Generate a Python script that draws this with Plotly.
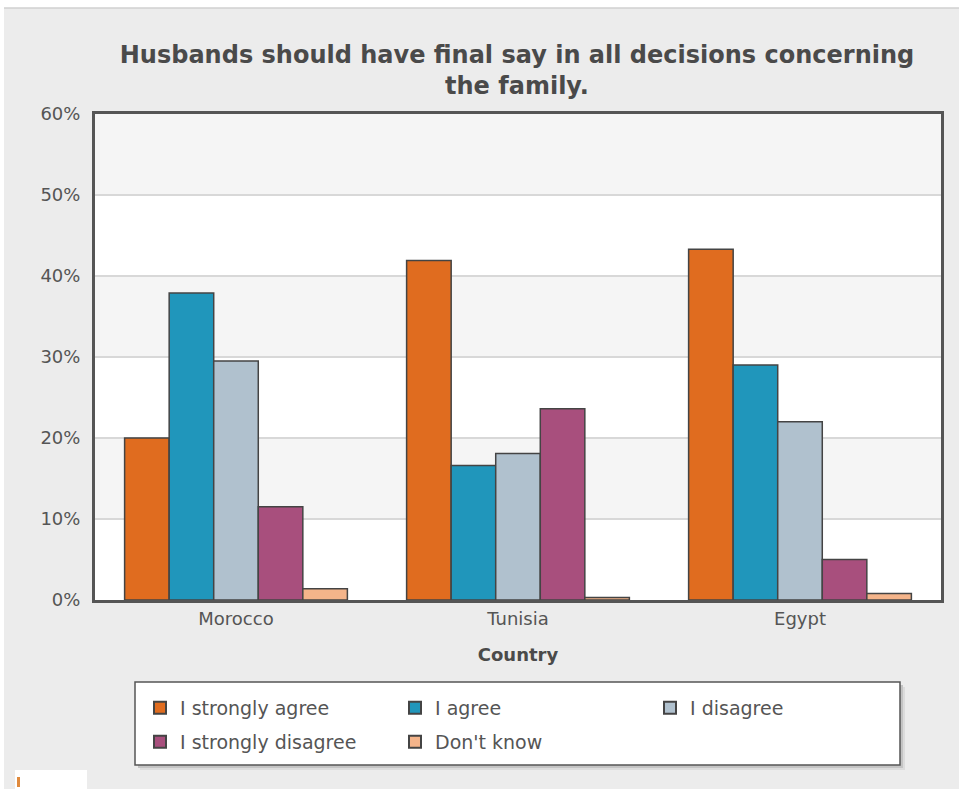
import plotly.graph_objects as go

# Survey responses by country (percent of respondents)
countries = ["Morocco", "Tunisia", "Egypt"]
responses = ["I strongly agree", "I agree", "I disagree", "I strongly disagree", "Don't know"]
strongly_agree = [20.0, 41.9, 43.3]
agree = [37.9, 16.6, 29.0]
disagree = [29.5, 18.1, 22.0]
strongly_disagree = [11.5, 23.6, 5.0]
dont_know = [1.4, 0.3, 0.8]
y_ticks = [0, 10, 20, 30, 40, 50, 60]
y_tick_labels = ["0%", "10%", "20%", "30%", "40%", "50%", "60%"]

series = [strongly_agree, agree, disagree, strongly_disagree, dont_know]
colors = ["#e06c1f", "#2096bb", "#b0c1ce", "#a84f7d", "#f4b48a"]
legend_rows = ["legend", "legend", "legend", "legend2", "legend2"]

FONT = "DejaVu Sans"
W, H = 959, 789
L, R, T, B = 95, 18, 114, 189
PW, PH = W - L - R, H - T - B


def px(x):
    return (x - L) / PW


def py(y):
    return (H - B - y) / PH


fig = go.Figure()
for name, vals, col, lg in zip(responses, series, colors, legend_rows):
    fig.add_trace(go.Bar(
        x=countries, y=vals, name=name, legend=lg,
        marker=dict(color=col, line=dict(color="#444444", width=1.5)),
        hovertemplate="%{x}: %{y:.1f}%<extra>" + name + "</extra>",
    ))

shapes = []
# grey canvas with a thin top rule
shapes.append(dict(type="rect", xref="paper", yref="paper",
                   x0=px(4), x1=px(W + 10), y0=py(H + 10), y1=py(8),
                   fillcolor="#ececec", line=dict(width=0), layer="below"))
shapes.append(dict(type="line", xref="paper", yref="paper",
                   x0=px(4), x1=px(W + 10), y0=py(8), y1=py(8),
                   line=dict(color="#d0d0d0", width=1.5), layer="below"))
# small white badge in the bottom-left corner
shapes.append(dict(type="rect", xref="paper", yref="paper",
                   x0=px(15), x1=px(87), y0=py(H + 10), y1=py(770),
                   fillcolor="white", line=dict(width=0), layer="below"))
shapes.append(dict(type="rect", xref="paper", yref="paper",
                   x0=px(17), x1=px(20), y0=py(787), y1=py(777),
                   fillcolor="#e08a3c", line=dict(width=0), layer="below"))
# plot area background with alternating bands
shapes.append(dict(type="rect", xref="paper", yref="paper", x0=0, x1=1, y0=0, y1=1,
                   fillcolor="white", line=dict(width=0), layer="below"))
for lo in (10, 30, 50):
    shapes.append(dict(type="rect", xref="paper", yref="y", x0=0, x1=1, y0=lo, y1=lo + 10,
                       fillcolor="#f5f5f5", line=dict(width=0), layer="below"))
# legend frame with soft drop shadow
for off, colr in ((5, "#dcdcdc"), (3, "#c4c4c4")):
    shapes.append(dict(type="rect", xref="paper", yref="paper",
                       x0=px(135 + off), x1=px(900 + off), y0=py(765 + off), y1=py(682 + off),
                       fillcolor=colr, line=dict(width=0), layer="below"))
shapes.append(dict(type="rect", xref="paper", yref="paper",
                   x0=px(135), x1=px(900), y0=py(765), y1=py(682),
                   fillcolor="white", line=dict(color="#555555", width=1.5), layer="below"))

legend_common = dict(
    orientation="h", xanchor="left", yanchor="middle",
    bgcolor="rgba(0,0,0,0)", borderwidth=0,
    entrywidth=210, entrywidthmode="pixels",
    font=dict(family=FONT, size=19, color="#555555"),
    itemsizing="constant", traceorder="normal",
)

fig.update_layout(
    width=W, height=H,
    margin=dict(l=L, r=R, t=T, b=B),
    paper_bgcolor="white",
    plot_bgcolor="rgba(0,0,0,0)",
    barmode="group",
    bargap=0.21,
    bargroupgap=0,
    shapes=shapes,
    font=dict(family=FONT, color="#555555", size=18),
    title=dict(
        text="<b>Husbands should have final say in all decisions concerning<br>the family.</b>",
        x=517 / W, xanchor="center", y=1 - 63 / H, yanchor="middle",
        font=dict(family=FONT, size=24, color="#4a4a4a"),
    ),
    xaxis=dict(
        showline=True, linecolor="#555555", linewidth=3, mirror=True,
        ticks="", tickfont=dict(size=18, color="#555555"),
        title=dict(text="<b>Country</b>", font=dict(size=18, color="#4a4a4a"), standoff=21),
    ),
    yaxis=dict(
        range=[0, 60], tickvals=y_ticks, ticktext=y_tick_labels,
        showline=True, linecolor="#555555", linewidth=3, mirror=True,
        gridcolor="#d8d8d8", gridwidth=1.5, zeroline=False,
        ticks="", ticklabelstandoff=8,
        tickfont=dict(size=18, color="#555555"),
    ),
    legend=dict(legend_common, x=px(140), y=py(708)),
    legend2=dict(legend_common, x=px(140), y=py(742)),
)

fig.write_html("out.html")
